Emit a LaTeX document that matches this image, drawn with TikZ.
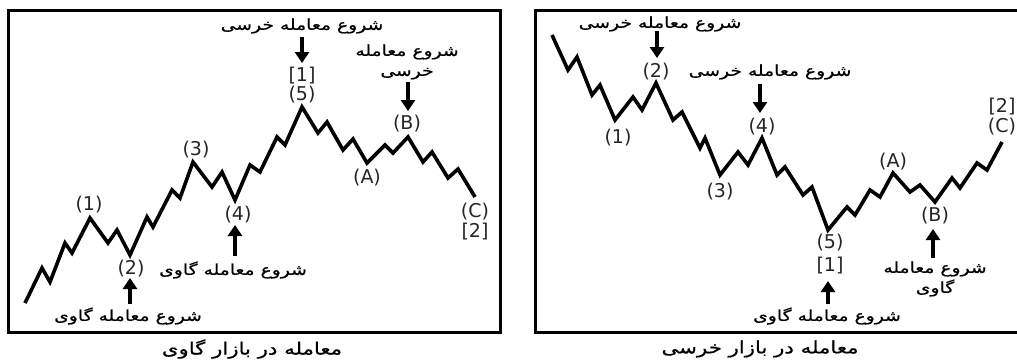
\documentclass[tikz,border=0pt]{standalone}
\usepackage{fontspec}
\setmainfont{DejaVu Sans}
\newfontfamily\arabicfont[Script=Arabic,FakeStretch=1.25,FakeBold=0.6]{DejaVu Sans}
\TeXXeTstate=1
\usetikzlibrary{arrows.meta}
\newcommand{\fa}[1]{{\arabicfont\beginR #1\endR}}
\begin{document}
\begin{tikzpicture}[x=1pt,y=-1pt,
  frame/.style={line width=3pt},
  wave/.style={line width=3.6pt,line join=miter,line cap=butt},
  lab/.style={font=\fontsize{19}{19}\selectfont,inner sep=0pt,text=black!85},
  fatxt/.style={font=\fontsize{15}{20}\selectfont,inner sep=0pt,align=center},
  captext/.style={font=\fontsize{17}{20}\selectfont,inner sep=0pt},
  bigarrow/.style={line width=3.2pt,-{Triangle[width=14pt,length=11pt]}}]
\useasboundingbox (0,0) rectangle (1017,360);
\fill[white] (0,0) rectangle (1017,360);
% ---------------- left panel ----------------
\draw[frame] (8,10) rectangle (500,332);
\draw[wave] (25,303) -- (42,268) -- (50,282) -- (65,243) -- (72,253) -- (90,218)
  -- (108,243) -- (117,230) -- (130,255)
  -- (147,217) -- (153,227) -- (172,190) -- (180,198) -- (193,162)
  -- (212,187) -- (222,172) -- (235,200)
  -- (250,165) -- (260,172) -- (277,137) -- (285,145) -- (302,107)
  -- (318,133) -- (327,122) -- (343,150) -- (353,139) -- (367,163)
  -- (385,145) -- (393,153) -- (408,137)
  -- (423,162) -- (432,152) -- (448,178) -- (458,169) -- (475,197);
\node[lab] (l1) at (89,205) {(1)};
\node[lab] (l2) at (131,269) {(2)};
\node[lab] (l3) at (196,150) {(3)};
\node[lab] (l4) at (238,215) {(4)};
\node[lab] (l5) at (302,95) {(5)};
\node[lab] (lb1) at (302,76) {[1]};
\node[lab] (lA) at (367,178) {(A)};
\node[lab] (lB) at (407,124) {(B)};
\node[lab] (lC) at (475,212) {(C)};
\node[lab] (lb2) at (475,232) {[2]};
\node[fatxt] (t2) at (128,316) {\fa{شروع معامله گاوی}};
\node[fatxt] (t4) at (233,270) {\fa{شروع معامله گاوی}};
\node[fatxt] (t5) at (302,26) {\fa{شروع معامله خرسی}};
\node[fatxt] (tB) at (407,62) {\fa{شروع معامله}\\\fa{خرسی}};
\coordinate (a2b) at (130,304); \coordinate (a2t) at (130,278);
\coordinate (a4b) at (235,256); \coordinate (a4t) at (235,225);
\coordinate (a5t) at (302,37);  \coordinate (a5b) at (302,63);
\coordinate (aBt) at (408,82);  \coordinate (aBb) at (408,111);
\draw[bigarrow] (a2b) -- (a2t);
\draw[bigarrow] (a4b) -- (a4t);
\draw[bigarrow] (a5t) -- (a5b);
\draw[bigarrow] (aBt) -- (aBb);
\node[captext] (capL) at (252,349) {\fa{معامله در بازار گاوی}};
% ---------------- right panel ----------------
\draw[frame] (1018,10) -- (535,10) -- (535,332) -- (1018,332);
\draw[wave] (552,35) -- (568,70) -- (577,57) -- (592,95) -- (600,85) -- (615,120)
  -- (633,97) -- (642,110) -- (656,83)
  -- (673,120) -- (682,112) -- (700,148) -- (705,138) -- (720,175)
  -- (738,152) -- (748,165) -- (762,138)
  -- (777,175) -- (785,167) -- (803,195) -- (812,187) -- (828,230)
  -- (847,207) -- (855,215) -- (870,190) -- (880,197) -- (893,173)
  -- (910,192) -- (920,185) -- (935,202)
  -- (952,178) -- (960,188) -- (977,163) -- (987,170) -- (1002,142);
\node[lab] (r1) at (618,138) {(1)};
\node[lab] (r2) at (656,72) {(2)};
\node[lab] (r3) at (720,192) {(3)};
\node[lab] (r4) at (762,127) {(4)};
\node[lab] (r5) at (830,243) {(5)};
\node[lab] (rb1) at (830,266) {[1]};
\node[lab] (rA) at (893,162) {(A)};
\node[lab] (rB) at (935,216) {(B)};
\node[lab] (rC) at (1002,127) {(C)};
\node[lab] (rb2) at (1002,107) {[2]};
\node[fatxt] (u2) at (660,24) {\fa{شروع معامله خرسی}};
\node[fatxt] (u4) at (770,72) {\fa{شروع معامله خرسی}};
\node[fatxt] (u5) at (827,316) {\fa{شروع معامله گاوی}};
\node[fatxt] (uB) at (935,279) {\fa{شروع معامله}\\\fa{گاوی}};
\coordinate (b2t) at (657,31);  \coordinate (b2b) at (657,58);
\coordinate (b4t) at (760,84);  \coordinate (b4b) at (760,113);
\coordinate (b5b) at (828,304); \coordinate (b5t) at (828,281);
\coordinate (bBb) at (933,258); \coordinate (bBt) at (933,229);
\draw[bigarrow] (b2t) -- (b2b);
\draw[bigarrow] (b4t) -- (b4b);
\draw[bigarrow] (b5b) -- (b5t);
\draw[bigarrow] (bBb) -- (bBt);
\node[captext] (capR) at (760,349) {\fa{معامله در بازار خرسی}};
\end{tikzpicture}
\end{document}
